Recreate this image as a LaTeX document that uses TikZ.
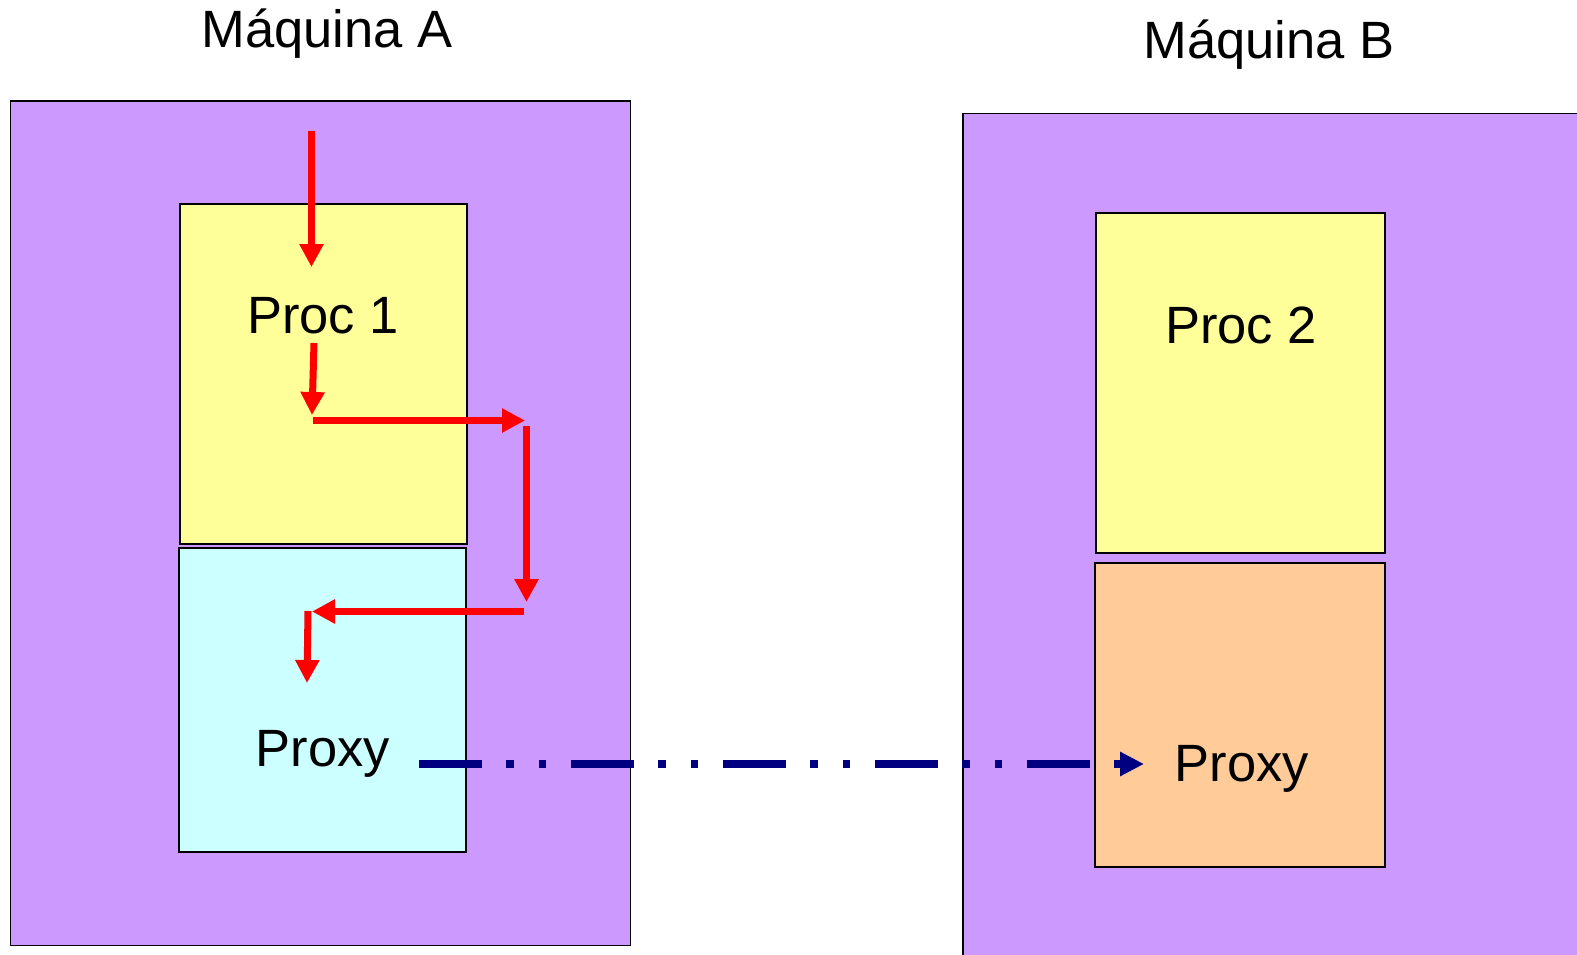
\documentclass[tikz,border=0pt]{standalone}
\usepackage{fontspec}
\setmainfont{Liberation Sans}
\usetikzlibrary{arrows.meta}

\definecolor{machine}{HTML}{CC99FF}
\definecolor{procfill}{HTML}{FFFF99}
\definecolor{proxyA}{HTML}{CCFFFF}
\definecolor{proxyB}{HTML}{FFCC99}
\definecolor{flowred}{HTML}{FF0000}
\definecolor{linkblue}{HTML}{000080}

\tikzset{
  box/.style={draw=black, line width=1.5pt, inner sep=0pt, anchor=north west},
  label/.style={font=\fontsize{52.5}{62}\selectfont, inner sep=0pt, anchor=base},
  flow/.style={draw=flowred, line width=7pt, line cap=butt,
    -{Triangle[length=23pt,width=23pt]}},
  link/.style={draw=linkblue, line width=8pt, line cap=butt,
    dash pattern=on 63pt off 24pt on 8pt off 25pt on 7pt off 25pt,
    -{Triangle[length=24pt,width=23pt]}}
}

\begin{document}
\begin{tikzpicture}[x=1pt, y=-1pt]
  \useasboundingbox (0,0) rectangle (1577,955);
  \clip (0,0) rectangle (1577,955);
  \fill[white] (0,0) rectangle (1577,955);

  % machines
  \node[box, fill=machine, minimum width=620pt, minimum height=844pt] (macA) at (9.5,100.5) {};
  \node[box, fill=machine, minimum width=700pt, minimum height=900pt] (macB) at (962,113) {};

  % processes and proxies
  \node[box, fill=procfill, minimum width=287pt, minimum height=340pt] (proc1) at (179,203) {};
  \node[box, fill=proxyA, minimum width=287pt, minimum height=304pt] (pxA) at (178,547) {};
  \node[box, fill=procfill, minimum width=289pt, minimum height=340pt] (proc2) at (1095,212) {};
  \node[box, fill=proxyB, minimum width=290pt, minimum height=304pt] (pxB) at (1094,562) {};

  % titles and labels
  \node[label] (tA) at (327,48) {Máquina A};
  \node[label] (tB) at (1269,59) {Máquina B};
  \node[label] (lp1) at (323,333) {Proc 1};
  \node[label] (lxA) at (323,766) {Proxy};
  \node[label] (lp2) at (1241,343) {Proc 2};
  \node[label] (lxB) at (1242,781) {Proxy};

  % call path through machine A
  \coordinate (r1s) at (311.5,131);
  \coordinate (r1e) at (311.5,267);
  \coordinate (r2s) at (314,343);
  \coordinate (r2e) at (312,415);
  \coordinate (r3s) at (313,420.5);
  \coordinate (r3e) at (525,420.5);
  \coordinate (r4s) at (526.5,426);
  \coordinate (r4e) at (526.5,602);
  \coordinate (r5s) at (524,611.5);
  \coordinate (r5e) at (312,611.5);
  \coordinate (r6s) at (308,611);
  \coordinate (r6e) at (307,683);
  \draw[flow] (r1s) -- (r1e);
  \draw[flow] (r2s) -- (r2e);
  \draw[flow] (r3s) -- (r3e);
  \draw[flow] (r4s) -- (r4e);
  \draw[flow] (r5s) -- (r5e);
  \draw[flow] (r6s) -- (r6e);

  % remote link between proxies
  \coordinate (ls) at (419,764);
  \coordinate (le) at (1144,764);
  \draw[link] (ls) -- (le);
\end{tikzpicture}
\end{document}
